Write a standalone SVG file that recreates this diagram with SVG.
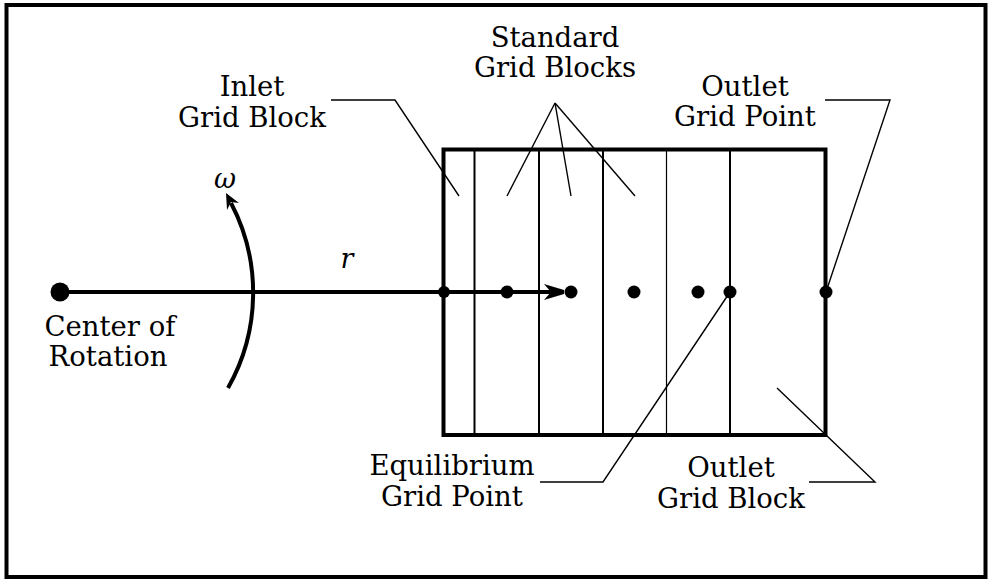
<svg xmlns="http://www.w3.org/2000/svg" width="992" height="581" viewBox="0 0 992 581">
<style>
.lbl{font-family:"DejaVu Serif","Liberation Serif",serif;font-size:27.5px;fill:#000;text-anchor:middle}
.math{font-family:"DejaVu Serif","Liberation Serif",serif;font-style:italic;font-size:27px;fill:#000;text-anchor:middle}
.thick{stroke:#000;stroke-width:4;fill:none}
.mid{stroke:#000;stroke-width:2;fill:none}
.lead{stroke:#000;stroke-width:1.4;fill:none}
.dot{fill:#000}
.head{fill:#000}
</style>
<rect x="6.5" y="5" width="979" height="572" class="thick"/>

<g id="grid">
<rect x="443.5" y="149.5" width="382" height="285.5" class="thick"/>
<line x1="474.5" y1="149.5" x2="474.5" y2="435" class="mid"/>
<line x1="539" y1="149.5" x2="539" y2="435" class="mid"/>
<line x1="603" y1="149.5" x2="603" y2="435" class="mid"/>
<line x1="666.5" y1="149.5" x2="666.5" y2="435" stroke="#000" stroke-width="1.2"/>
<line x1="730" y1="149.5" x2="730" y2="435" class="mid"/>
</g>

<g id="center">
<circle cx="60" cy="292" r="9.5" class="dot"/>
<text class="lbl" x="110" y="336">Center of</text>
<text class="lbl" x="108" y="366">Rotation</text>
</g>

<g id="points">
<circle cx="444" cy="292" r="6" class="dot"/>
<circle cx="507" cy="292" r="6.5" class="dot"/>
<circle cx="571" cy="292" r="6.5" class="dot"/>
<circle cx="634" cy="292" r="6.5" class="dot"/>
<circle cx="698" cy="292" r="6.5" class="dot"/>
<circle cx="730" cy="292" r="6.5" class="dot"/>
<circle cx="826" cy="292" r="6.5" class="dot"/>
</g>

<g id="connectors">
<line x1="60" y1="292" x2="552" y2="292" class="thick"/>
<path d="M544,284 L564,290 L564,294 L544,300 L551,292 Z" class="head"/>
<path d="M228,388 A193,193 0 0 0 231,203" class="thick"/>
<polygon points="226,193 239,203 231,202 227,210" class="head"/>
<polyline points="331,100 395,100 459,196" class="lead"/>
<line x1="555" y1="103" x2="507" y2="196" class="lead"/>
<line x1="555" y1="103" x2="571" y2="196" class="lead"/>
<line x1="555" y1="103" x2="635" y2="196" class="lead"/>
<polyline points="825,100 890,100 826,292" class="lead"/>
<polyline points="540,482 603,482 730,292" class="lead"/>
<polyline points="809,482 875,482 777,388" class="lead"/>
</g>

<g id="labels">
<text class="math" x="225" y="188">ω</text>
<text class="math" x="347" y="268">r</text>
<text class="lbl" x="252" y="96">Inlet</text>
<text class="lbl" x="252" y="127">Grid Block</text>
<text class="lbl" x="555" y="47">Standard</text>
<text class="lbl" x="555" y="77">Grid Blocks</text>
<text class="lbl" x="745" y="96">Outlet</text>
<text class="lbl" x="745" y="126">Grid Point</text>
<text class="lbl" x="452" y="475">Equilibrium</text>
<text class="lbl" x="452" y="506">Grid Point</text>
<text class="lbl" x="731" y="477">Outlet</text>
<text class="lbl" x="731" y="508">Grid Block</text>
</g>
</svg>
